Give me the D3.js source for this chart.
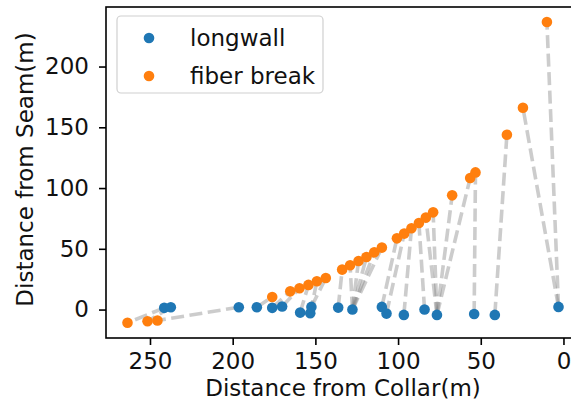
<!DOCTYPE html>
<html><head><meta charset="utf-8">
<script src="https://cdn.jsdelivr.net/npm/d3@7"></script>
<style>html,body{margin:0;padding:0;background:#fff;overflow:hidden}</style>
</head><body>
<svg id="chart" width="571" height="409"></svg>
<script>
// Longwall positions (distance from collar, distance from seam)
const longwallX = [241.4, 237.4, 196.3, 185.4, 176.1, 170.1, 159.2, 153.1, 152.4, 136.2, 127.6, 109.8, 107.0, 96.5, 84.0, 76.5, 54.0, 41.5, 3.0];
const longwallY = [1.4, 1.9, 1.9, 1.9, 1.4, 2.5, -2.5, -3.0, 2.2, 1.6, 0.0, 2.2, -3.3, -4.4, 0.0, -4.4, -3.6, -4.4, 2.2];
// Fiber break positions
const fiberX = [263.6, 251.5, 245.5, 176.1, 165.2, 159.6, 154.2, 149.1, 143.7, 133.8, 129.0, 123.9, 119.1, 114.4, 109.8, 100.7, 96.3, 91.9, 87.4, 83.2, 78.8, 67.3, 56.4, 53.2, 34.2, 24.5, 10.0];
const fiberY = [-10.9, -9.6, -9.0, 10.4, 15.0, 17.5, 20.3, 23.3, 26.0, 32.9, 36.5, 40.0, 43.3, 47.1, 51.0, 58.6, 62.5, 66.9, 71.3, 75.7, 80.0, 94.0, 108.3, 112.9, 143.9, 166.1, 236.6];
// index of the longwall point each fiber break is linked to
const fiberLongwall = [0, 1, 2, 3, 4, 5, 6, 7, 8, 9, 10, 10, 10, 10, 10, 11, 12, 13, 14, 15, 15, 15, 15, 16, 17, 18, 18];
const xTicks = [250, 200, 150, 100, 50, 0];
const yTicks = [0, 50, 100, 150, 200];
const seriesNames = ["longwall", "fiber break"];
const seriesColors = ["#1f77b4", "#ff7f0e"];

const svg = d3.select("#chart");
const L = 106, R = 580, T = 7, B = 338;
const font = "DejaVu Sans, sans-serif";
const fs = 23;

const x = d3.scaleLinear().domain([276.6, -10.0]).range([L, R]);
const y = d3.scaleLinear().domain([-23.4, 249]).range([B, T]);

// connecting dashed lines
const g = svg.append("g");
fiberX.forEach((fx, i) => {
  const j = fiberLongwall[i];
  g.append("line")
    .attr("x1", x(longwallX[j])).attr("y1", y(longwallY[j]))
    .attr("x2", x(fx)).attr("y2", y(fiberY[i]))
    .attr("stroke", "#808080").attr("stroke-opacity", 0.4)
    .attr("stroke-width", 3.6).attr("stroke-dasharray", "13,5.5");
});

// points
svg.append("g").selectAll("circle").data(longwallX).join("circle")
  .attr("cx", d => x(d)).attr("cy", (d, i) => y(longwallY[i])).attr("r", 5.3)
  .attr("fill", seriesColors[0]);
svg.append("g").selectAll("circle").data(fiberX).join("circle")
  .attr("cx", d => x(d)).attr("cy", (d, i) => y(fiberY[i])).attr("r", 5.3)
  .attr("fill", seriesColors[1]);

// axes
const xAxis = svg.append("g").attr("transform", `translate(0,${B})`)
  .call(d3.axisBottom(x).tickValues(xTicks).tickSize(7).tickPadding(8).tickSizeOuter(0));
const yAxis = svg.append("g").attr("transform", `translate(${L},0)`)
  .call(d3.axisLeft(y).tickValues(yTicks).tickSize(7).tickPadding(10).tickSizeOuter(0));
[xAxis, yAxis].forEach(a => {
  a.select(".domain").remove();
  a.selectAll(".tick line").attr("stroke", "#000").attr("stroke-width", 1.6);
  a.selectAll(".tick text").attr("font-family", font).attr("font-size", fs).attr("fill", "#111");
});
// frame
svg.append("rect").attr("x", L).attr("y", T).attr("width", R - L).attr("height", B - T)
  .attr("fill", "none").attr("stroke", "#000").attr("stroke-width", 1.6);

// axis labels
svg.append("text").attr("x", (L + R) / 2).attr("y", 396).attr("text-anchor", "middle")
  .attr("font-family", font).attr("font-size", fs).attr("fill", "#111")
  .text("Distance from Collar(m)");
svg.append("text").attr("transform", `translate(33,${(T + B) / 2 - 3}) rotate(-90)`)
  .attr("text-anchor", "middle")
  .attr("font-family", font).attr("font-size", fs).attr("fill", "#111")
  .text("Distance from Seam(m)");

// legend
const lg = svg.append("g");
lg.append("rect").attr("x", 117).attr("y", 16).attr("width", 206).attr("height", 77).attr("rx", 4)
  .attr("fill", "#fff").attr("fill-opacity", 0.8).attr("stroke", "#d0d0d0").attr("stroke-width", 1.2);
seriesNames.forEach((n, i) => {
  const cy = 38 + i * 38;
  lg.append("circle").attr("cx", 149).attr("cy", cy).attr("r", 5.3).attr("fill", seriesColors[i]);
  lg.append("text").attr("x", 190).attr("y", cy + 8).attr("font-family", font).attr("font-size", fs)
    .attr("fill", "#111").text(n);
});
</script>
</body></html>
